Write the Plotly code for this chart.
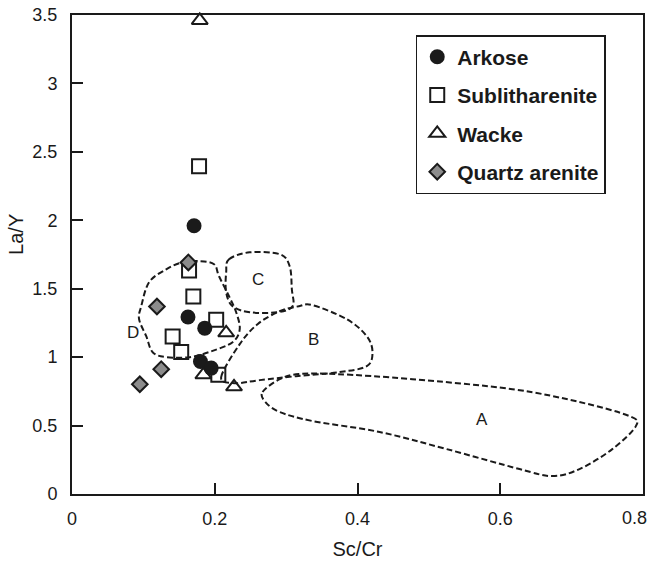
import plotly.graph_objects as go

# ---- data ----
arkose_x = [0.171, 0.1625, 0.186, 0.180, 0.195]
arkose_y = [1.96, 1.293, 1.212, 0.968, 0.920]

sublith_x = [0.178, 0.164, 0.170, 0.202, 0.141, 0.153, 0.205]
sublith_y = [2.394, 1.634, 1.443, 1.273, 1.151, 1.037, 0.871]

wacke_x = [0.179, 0.216, 0.184, 0.227]
wacke_y = [3.46, 1.178, 0.871, 0.783]

qarenite_x = [0.163, 0.119, 0.125, 0.095]
qarenite_y = [1.692, 1.370, 0.912, 0.802]

# field outlines (Sc/Cr, La/Y)
region_A = [(0.267, 0.745), (0.291, 0.839), (0.318, 0.876), (0.371, 0.876), (0.477, 0.839),
            (0.617, 0.766), (0.711, 0.672), (0.781, 0.569), (0.790, 0.496), (0.757, 0.328),
            (0.711, 0.182), (0.673, 0.131), (0.627, 0.182), (0.525, 0.328), (0.431, 0.453),
            (0.337, 0.533), (0.291, 0.599), (0.271, 0.672)]
region_B = [(0.209, 0.854), (0.235, 1.095), (0.260, 1.241), (0.291, 1.336), (0.318, 1.372),
            (0.337, 1.380), (0.385, 1.277), (0.413, 1.153), (0.421, 1.036), (0.413, 0.934),
            (0.375, 0.891), (0.314, 0.861), (0.263, 0.832), (0.228, 0.810)]
region_C = [(0.220, 1.715), (0.249, 1.766), (0.291, 1.752), (0.305, 1.664), (0.308, 1.496),
            (0.309, 1.372), (0.287, 1.328), (0.249, 1.328), (0.225, 1.372), (0.216, 1.474),
            (0.216, 1.620)]
region_D = [(0.155, 1.693), (0.179, 1.701), (0.199, 1.679), (0.206, 1.591), (0.220, 1.445),
            (0.230, 1.328), (0.235, 1.204), (0.225, 1.109), (0.196, 1.044), (0.165, 1.000),
            (0.132, 1.000), (0.113, 1.036), (0.104, 1.153), (0.094, 1.277), (0.097, 1.372),
            (0.108, 1.547), (0.132, 1.642)]
region_labels = ["A", "B", "C", "D"]
label_x = [0.574, 0.338, 0.261, 0.085]
label_y = [0.547, 1.131, 1.569, 1.182]

x_ticks = [0, 0.2, 0.4, 0.6, 0.8]
y_ticks = [0, 0.5, 1, 1.5, 2, 2.5, 3, 3.5]

FONT = "Liberation Sans, Arial, sans-serif"
INK = "#1a1a1a"


def closed_smooth_path(pts):
    """Closed Catmull-Rom curve through pts converted to cubic Bezier SVG path."""
    n = len(pts)
    d = f"M {pts[0][0]},{pts[0][1]}"
    for i in range(n):
        p0 = pts[(i - 1) % n]
        p1 = pts[i]
        p2 = pts[(i + 1) % n]
        p3 = pts[(i + 2) % n]
        c1 = (p1[0] + (p2[0] - p0[0]) / 6, p1[1] + (p2[1] - p0[1]) / 6)
        c2 = (p2[0] - (p3[0] - p1[0]) / 6, p2[1] - (p3[1] - p1[1]) / 6)
        d += f" C {c1[0]:.4f},{c1[1]:.4f} {c2[0]:.4f},{c2[1]:.4f} {p2[0]:.4f},{p2[1]:.4f}"
    return d + " Z"


fig = go.Figure()

fig.add_trace(go.Scatter(
    x=arkose_x, y=arkose_y, mode="markers", name="Arkose", legendgroup="a",
    marker=dict(symbol="circle", size=15, color=INK, line=dict(width=0)), cliponaxis=False))
fig.add_trace(go.Scatter(
    x=sublith_x, y=sublith_y, mode="markers", name="Sublitharenite", legendgroup="b",
    marker=dict(symbol="square-open", size=14, color=INK, line=dict(width=2)), cliponaxis=False))
fig.add_trace(go.Scatter(
    x=wacke_x, y=wacke_y, mode="markers", name="Wacke", legendgroup="c",
    marker=dict(symbol="triangle-up-open", size=14, color=INK, line=dict(width=2)), cliponaxis=False))
fig.add_trace(go.Scatter(
    x=qarenite_x, y=qarenite_y, mode="markers", name="Quartz arenite", legendgroup="d",
    marker=dict(symbol="diamond", size=12, color="#8c8c8c", line=dict(width=2, color=INK)),
    cliponaxis=False))

for reg in (region_A, region_B, region_C, region_D):
    fig.add_shape(type="path", xref="x", yref="y", path=closed_smooth_path(reg),
                  line=dict(color=INK, width=2, dash="6px,3px"), layer="below")

for t, lx, ly in zip(region_labels, label_x, label_y):
    fig.add_annotation(x=lx, y=ly, text=t, showarrow=False,
                       font=dict(family=FONT, size=17, color=INK))

fig.add_annotation(xref="paper", yref="paper", x=-0.098, y=0.541, text="La/Y",
                   textangle=-90, showarrow=False, xanchor="center", yanchor="middle",
                   font=dict(family=FONT, size=20, color=INK))

# last x tick label sits flush with the right edge, as in the reference
fig.add_annotation(xref="x", yref="paper", x=x_ticks[-1], y=0, text=f"{x_ticks[-1]:g}",
                   showarrow=False, xanchor="right", yanchor="middle", xshift=6, yshift=-24,
                   font=dict(family=FONT, size=18, color=INK))

axis_common = dict(showgrid=False, zeroline=False, showline=True, linecolor=INK, linewidth=2,
                   mirror=True, ticks="inside", ticklen=11, tickwidth=2, tickcolor=INK,
                   automargin=False,
                   tickfont=dict(family=FONT, size=18, color=INK))

fig.update_layout(
    width=654, height=564,
    margin=dict(l=72, r=11, t=15, b=70),
    paper_bgcolor="white", plot_bgcolor="white",
    font=dict(family=FONT, color=INK),
    xaxis=dict(range=[0, 0.8], tickvals=x_ticks,
               ticktext=[f"{v:g}" for v in x_ticks[:-1]] + [""],
               ticklabelstandoff=7,
               title=dict(text="Sc/Cr", font=dict(family=FONT, size=20, color=INK), standoff=14),
               **axis_common),
    yaxis=dict(range=[0, 3.5], tickvals=y_ticks, ticktext=[f"{v:g}" for v in y_ticks],
               ticklabelstandoff=9,
               **axis_common),
    legend=dict(x=0.602, y=0.958, xanchor="left", yanchor="top",
                bordercolor=INK, borderwidth=1.5, bgcolor="white",
                font=dict(family=FONT, size=21, color=INK, weight="bold"),
                tracegroupgap=8, itemsizing="trace"),
    showlegend=True,
)

fig.write_html("out.html")
